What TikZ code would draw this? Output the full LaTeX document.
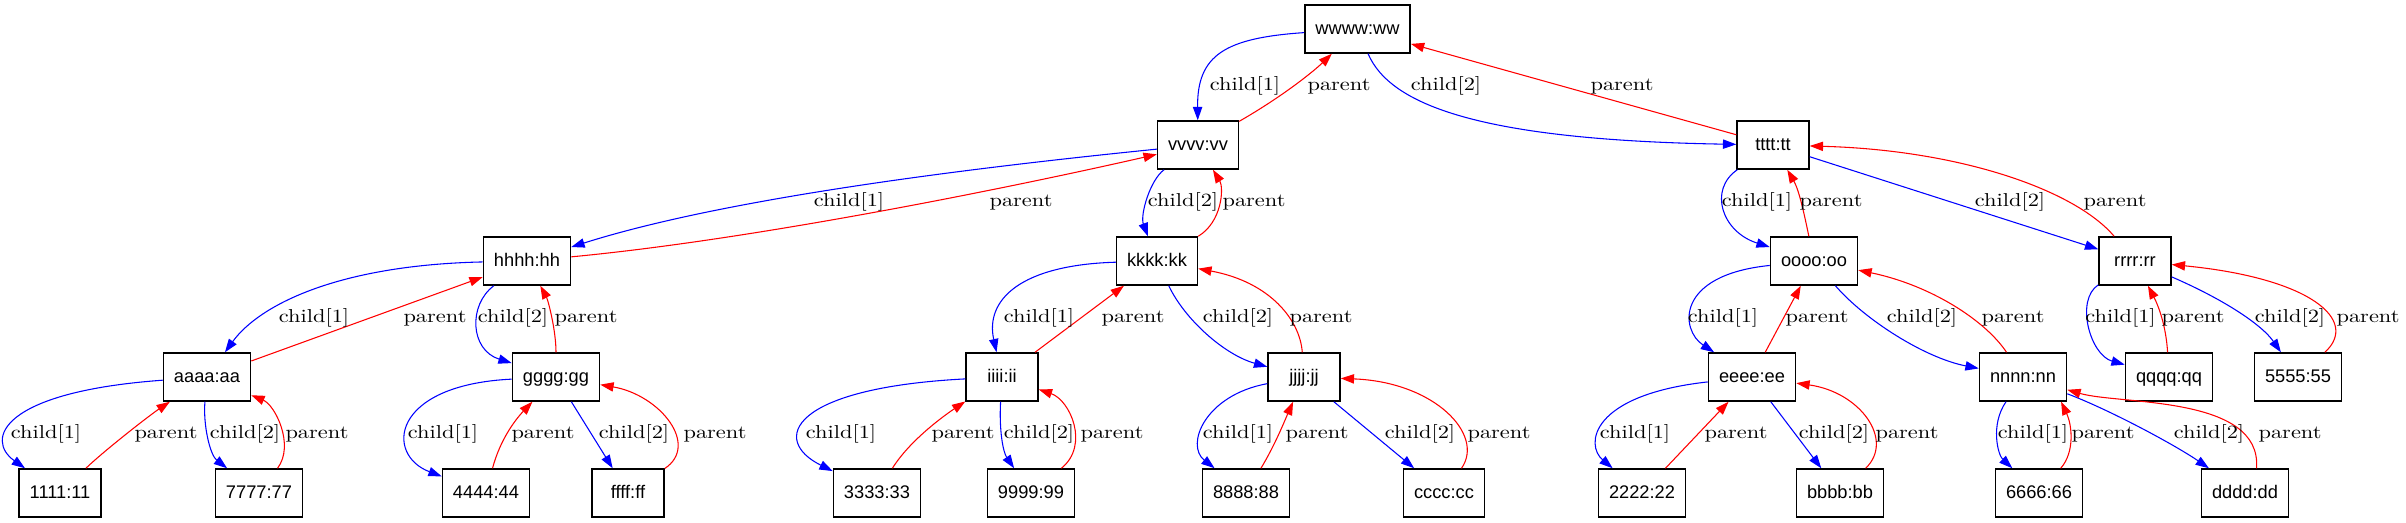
\documentclass[tikz,border=0pt]{standalone}
\usepackage{fontspec}
\usetikzlibrary{arrows.meta}
\newfontfamily\NodeFam{Liberation Sans}
\newfontfamily\EdgeFam{lmroman10-regular}[Extension=.otf,FakeStretch=1.2]
\tikzset{
  box/.style={draw=black, line width=1.1pt, rectangle,
    font=\NodeFam\fontsize{13.7}{16}\selectfont,
    inner xsep=7.9pt, inner ysep=0pt, minimum width=54pt, minimum height=36pt,
    text height=10pt, text depth=1pt},
  cedge/.style={draw=blue, line width=0.8pt, -{Triangle[length=10pt,width=7pt]}},
  pedge/.style={draw=red, line width=0.8pt, -{Triangle[length=10pt,width=7pt]}},
  lbl/.style={font=\EdgeFam\fontsize{14}{16}\selectfont, inner sep=0pt, anchor=base},
}
\begin{document}
\begin{tikzpicture}[x=0.75pt,y=-0.75pt]
\useasboundingbox (0,0) rectangle (2406,523);
% nodes
\node[box] (Nwwww) at (1357.5,29) {wwww:ww};
\node[box] (Nvvvv) at (1198,145) {vvvv:vv};
\node[box] (Ntttt) at (1773,145) {tttt:tt};
\node[box] (Nhhhh) at (527,261) {hhhh:hh};
\node[box] (Nkkkk) at (1157,261) {kkkk:kk};
\node[box] (Noooo) at (1814,261) {oooo:oo};
\node[box] (Nrrrr) at (2135,261) {rrrr:rr};
\node[box] (Naaaa) at (207,377) {aaaa:aa};
\node[box] (Ngggg) at (556,377) {gggg:gg};
\node[box] (Niiii) at (1002,377) {iiii:ii};
\node[box] (Njjjj) at (1304,377) {jjjj:jj};
\node[box] (Neeee) at (1752,377) {eeee:ee};
\node[box] (Nnnnn) at (2023,377) {nnnn:nn};
\node[box] (Nqqqq) at (2169,377) {qqqq:qq};
\node[box] (N5555) at (2298,377) {5555:55};
\node[box] (N1111) at (60,493) {1111:11};
\node[box] (N7777) at (259,493) {7777:77};
\node[box] (N4444) at (486,493) {4444:44};
\node[box] (Nffff) at (628,493) {ffff:ff};
\node[box] (N3333) at (877,493) {3333:33};
\node[box] (N9999) at (1031,493) {9999:99};
\node[box] (N8888) at (1246,493) {8888:88};
\node[box] (Ncccc) at (1444,493) {cccc:cc};
\node[box] (N2222) at (1642,493) {2222:22};
\node[box] (Nbbbb) at (1840,493) {bbbb:bb};
\node[box] (N6666) at (2039,493) {6666:66};
\node[box] (Ndddd) at (2245,493) {dddd:dd};
% edges
\draw[cedge] (Nwwww) .. controls (1225,38) and (1197,55) .. (Nvvvv);
\draw[pedge] (Nvvvv) .. controls (1285,95) and (1315,70) .. (Nwwww);
\draw[cedge] (Nwwww) .. controls (1390,105) and (1480,140) .. (Ntttt);
\draw[pedge] (Ntttt) -- (Nwwww);
\draw[cedge] (Nvvvv) .. controls (950,170) and (720,200) .. (Nhhhh);
\draw[pedge] (Nhhhh) .. controls (750,240) and (1000,190) .. (Nvvvv);
\draw[cedge] (Nvvvv) .. controls (1150,180) and (1140,215) .. (Nkkkk);
\draw[pedge] (Nkkkk) .. controls (1222,222) and (1224,188) .. (Nvvvv);
\draw[cedge] (Ntttt) .. controls (1708,190) and (1722,232) .. (Noooo);
\draw[pedge] (Noooo) .. controls (1804,213) and (1799,190) .. (Ntttt);
\draw[cedge] (Ntttt) -- (Nrrrr);
\draw[pedge] (Nrrrr) .. controls (2075,190) and (1960,150) .. (Ntttt);
\draw[cedge] (Nhhhh) .. controls (340,265) and (260,304) .. (Naaaa);
\draw[pedge] (Naaaa) -- (Nhhhh);
\draw[cedge] (Nhhhh) .. controls (468,305) and (470,350) .. (Ngggg);
\draw[pedge] (Ngggg) .. controls (556,330) and (548,300) .. (Nhhhh);
\draw[cedge] (Nkkkk) .. controls (1020,265) and (985,300) .. (Niiii);
\draw[pedge] (Niiii) -- (Nkkkk);
\draw[cedge] (Nkkkk) .. controls (1185,320) and (1225,355) .. (Njjjj);
\draw[pedge] (Njjjj) .. controls (1300,320) and (1270,282) .. (Nkkkk);
\draw[cedge] (Noooo) .. controls (1675,275) and (1680,330) .. (Neeee);
\draw[pedge] (Neeee) -- (Noooo);
\draw[cedge] (Noooo) .. controls (1865,320) and (1925,358) .. (Nnnnn);
\draw[pedge] (Nnnnn) .. controls (1985,320) and (1930,285) .. (Noooo);
\draw[cedge] (Nrrrr) .. controls (2075,300) and (2090,355) .. (Nqqqq);
\draw[pedge] (Nqqqq) .. controls (2166,325) and (2158,305) .. (Nrrrr);
\draw[cedge] (Nrrrr) .. controls (2225,300) and (2262,325) .. (N5555);
\draw[pedge] (N5555) .. controls (2360,320) and (2310,278) .. (Nrrrr);
\draw[cedge] (Naaaa) .. controls (0,392) and (-15,440) .. (N1111);
\draw[pedge] (N1111) .. controls (105,450) and (150,415) .. (Naaaa);
\draw[cedge] (Naaaa) .. controls (203,425) and (210,455) .. (N7777);
\draw[pedge] (N7777) .. controls (295,445) and (275,405) .. (Naaaa);
\draw[cedge] (Ngggg) .. controls (390,385) and (385,455) .. (N4444);
\draw[pedge] (N4444) .. controls (500,440) and (515,420) .. (Ngggg);
\draw[cedge] (Ngggg) -- (Nffff);
\draw[pedge] (Nffff) .. controls (700,445) and (660,395) .. (Ngggg);
\draw[cedge] (Niiii) .. controls (790,388) and (770,440) .. (N3333);
\draw[pedge] (N3333) .. controls (910,440) and (945,415) .. (Niiii);
\draw[cedge] (Niiii) .. controls (999,430) and (1003,452) .. (N9999);
\draw[pedge] (N9999) .. controls (1090,445) and (1070,400) .. (Niiii);
\draw[cedge] (Njjjj) .. controls (1205,395) and (1185,445) .. (N8888);
\draw[pedge] (N8888) .. controls (1275,445) and (1285,420) .. (Njjjj);
\draw[cedge] (Njjjj) -- (Ncccc);
\draw[pedge] (Ncccc) .. controls (1485,435) and (1435,382) .. (Njjjj);
\draw[cedge] (Neeee) .. controls (1590,395) and (1585,445) .. (N2222);
\draw[pedge] (N2222) -- (Neeee);
\draw[cedge] (Neeee) -- (Nbbbb);
\draw[pedge] (Nbbbb) .. controls (1895,440) and (1860,392) .. (Neeee);
\draw[cedge] (Nnnnn) .. controls (1990,425) and (1998,455) .. (N6666);
\draw[pedge] (N6666) .. controls (2075,452) and (2072,425) .. (Nnnnn.-33);
\draw[cedge] (Nnnnn) .. controls (2110,410) and (2175,445) .. (Ndddd);
\draw[pedge] (Ndddd.65) .. controls (2262,395) and (2120,405) .. (Nnnnn);
% labels row 0-1
\node[lbl] (L01) at (1245,91) {child[1]};
\node[lbl] (L02) at (1339,91) {parent};
\node[lbl] (L03) at (1446,91) {child[2]};
\node[lbl] (L04) at (1622,91) {parent};
% row 1-2
\node[lbl] (L05) at (849,207) {child[1]};
\node[lbl] (L06) at (1021,207) {parent};
\node[lbl] (L07) at (1183,207) {child[2]};
\node[lbl] (L08) at (1254,207) {parent};
\node[lbl] (L09) at (1757,207) {child[1]};
\node[lbl] (L10) at (1831,207) {parent};
\node[lbl] (L11) at (2010,207) {child[2]};
\node[lbl] (L12) at (2115,207) {parent};
% row 2-3
\node[lbl] (L13) at (314,323) {child[1]};
\node[lbl] (L14) at (435,323) {parent};
\node[lbl] (L15) at (513,323) {child[2]};
\node[lbl] (L16) at (586,323) {parent};
\node[lbl] (L17) at (1039,323) {child[1]};
\node[lbl] (L18) at (1133,323) {parent};
\node[lbl] (L19) at (1238,323) {child[2]};
\node[lbl] (L20) at (1321,323) {parent};
\node[lbl] (L21) at (1723,323) {child[1]};
\node[lbl] (L22) at (1817,323) {parent};
\node[lbl] (L23) at (1922,323) {child[2]};
\node[lbl] (L24) at (2013,323) {parent};
\node[lbl] (L25) at (2120.5,323) {child[1]};
\node[lbl] (L26) at (2193,323) {parent};
\node[lbl] (L27) at (2290,323) {child[2]};
\node[lbl] (L28) at (2368,323) {parent};
% row 3-4
\node[lbl] (L29) at (46,439) {child[1]};
\node[lbl] (L30) at (166,439) {parent};
\node[lbl] (L31) at (245,439) {child[2]};
\node[lbl] (L32) at (317,439) {parent};
\node[lbl] (L33) at (443,439) {child[1]};
\node[lbl] (L34) at (543,439) {parent};
\node[lbl] (L35) at (634,439) {child[2]};
\node[lbl] (L36) at (715,439) {parent};
\node[lbl] (L37) at (841,439) {child[1]};
\node[lbl] (L38) at (963,439) {parent};
\node[lbl] (L39) at (1039,439) {child[2]};
\node[lbl] (L40) at (1112,439) {parent};
\node[lbl] (L41) at (1238,439) {child[1]};
\node[lbl] (L42) at (1317,439) {parent};
\node[lbl] (L43) at (1420,439) {child[2]};
\node[lbl] (L44) at (1499,439) {parent};
\node[lbl] (L45) at (1635,439) {child[1]};
\node[lbl] (L46) at (1736,439) {parent};
\node[lbl] (L47) at (1834,439) {child[2]};
\node[lbl] (L48) at (1907,439) {parent};
\node[lbl] (L49) at (2033,439) {child[1]};
\node[lbl] (L50) at (2103,439) {parent};
\node[lbl] (L51) at (2209,439) {child[2]};
\node[lbl] (L52) at (2290,439) {parent};
\end{tikzpicture}
\end{document}
